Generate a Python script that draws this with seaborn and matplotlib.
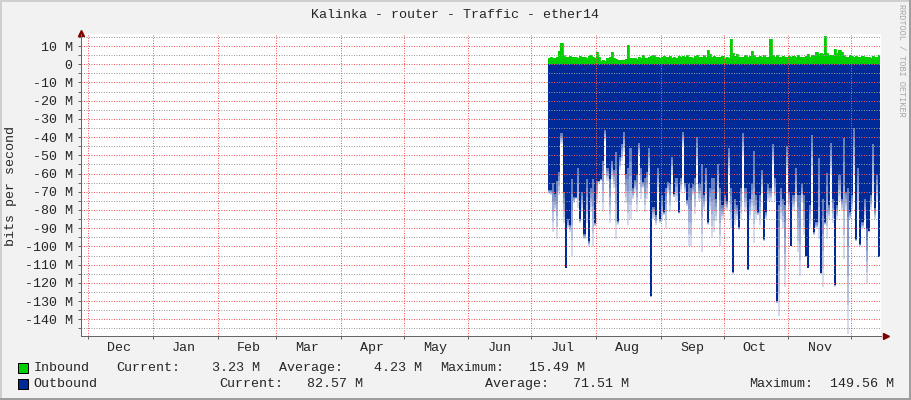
import numpy as np
import pandas as pd
import matplotlib
matplotlib.use("Agg")
import matplotlib.pyplot as plt
import matplotlib.dates as mdates
from matplotlib.patches import Rectangle
from matplotlib.lines import Line2D
from matplotlib.ticker import MultipleLocator, FuncFormatter
import seaborn as sns

# daily samples in Mbit/s, first sample on 2019-07-09
start_date = "2019-07-09"

inbound = [
    3.5, 3.8, 3.2, 3.6, 4.0, 7.0, 11.5, 5.0, 4.2, 3.8,
    4.5, 3.8, 4.2, 4.0, 3.6, 4.4, 3.9, 4.1, 3.7, 4.3,
    4.8, 4.0, 3.5, 6.5, 3.8, 2.0, 2.2, 2.0, 3.5, 4.0,
    6.8, 3.5, 2.8, 2.5, 2.2, 2.4, 2.2, 2.8, 10.5, 3.5,
    3.5, 3.2, 3.0, 4.0, 3.5, 4.8, 3.6, 3.2, 3.8, 4.5,
    5.0, 3.9, 4.2, 3.5, 3.8, 4.6, 3.8, 4.0, 4.5, 3.6,
    4.0, 3.5, 4.4, 3.8, 4.5, 3.9, 4.8, 4.2, 4.0, 3.6,
    4.5, 4.8, 3.9, 4.0, 5.0, 4.2, 7.8, 5.5, 4.0, 4.5,
    3.8, 4.2, 4.0, 4.5, 3.6, 4.0, 3.5, 13.9, 6.0, 4.5,
    5.5, 4.0, 3.8, 4.2, 5.0, 4.0, 4.5, 7.0, 5.0, 4.2,
    4.0, 4.5, 3.8, 5.2, 4.0, 4.2, 13.9, 4.8, 4.0, 5.2,
    4.2, 4.0, 4.5, 3.8, 4.2, 4.5, 3.9, 4.6, 4.0, 4.8,
    4.2, 4.0, 3.8, 4.5, 5.5, 4.0, 4.8, 5.0, 6.5, 5.5,
    6.2, 5.5, 15.5, 6.0, 4.8, 5.2, 5.0, 8.4, 6.0, 8.0,
    6.5, 5.0, 4.2, 4.0, 5.0, 4.5, 3.8, 4.5, 4.0, 4.2,
    4.5, 3.8, 4.2, 4.0, 3.6, 4.5, 3.9, 4.2, 5.2,
]

# outbound: typical daily level and the deepest short peak of each day
outbound = [
    69, 69, 65, 71, 64, 59, 38, 70, 112, 85,
    88, 63, 73, 73, 57, 85, 70, 93, 63, 97,
    68, 63, 87, 64, 64, 63, 53, 36, 57, 63,
    53, 58, 48, 86, 51, 44, 37, 60, 57, 46,
    68, 63.5, 60.7, 43, 57, 64.4, 62.6, 59, 46, 127,
    78.3, 83, 57, 85, 72, 81, 68, 64.4, 66, 51,
    71, 62.6, 81, 62.6, 37, 65.4, 74.6, 66, 68, 66,
    62.6, 40, 66, 55, 72, 57, 86.7, 68, 62.6, 62.6,
    73.7, 55, 68, 77.4, 72, 75.6, 46, 68, 114, 73.7,
    77.4, 89.5, 68, 37.6, 68, 112.6, 73.7, 66, 47.8, 72,
    81, 72, 58, 96, 81, 66, 68, 44, 62.6, 130,
    77.4, 68, 73.7, 77.4, 45, 70, 99.6, 72, 56.7, 72,
    72, 66, 72, 105, 111.7, 77.4, 39, 92, 86.7, 51.5,
    114.4, 73.7, 86.7, 59.8, 77.4, 43.5, 73.7, 121, 77.4, 60.7,
    73.7, 40.4, 70, 68, 81, 72, 35, 96, 57, 98.7,
    86.7, 73.7, 90.4, 91.3, 72, 44, 79, 60.7, 106,
]

outbound_peak = [
    71, 72, 92, 81, 96, 72, 44, 87, 112, 90,
    92, 105, 76, 74, 79, 87, 81, 96, 87, 100,
    81, 100, 89, 76, 65, 64, 81, 42, 64, 87,
    63, 68, 96, 88, 58, 53, 48, 76, 88, 85,
    74, 70, 81, 50, 74, 68, 81, 74, 60, 128,
    85, 88, 70, 87, 86, 83, 90, 70, 81, 60,
    73, 75, 82, 70, 45, 70, 78, 100, 100, 72,
    82, 55, 75, 103, 80, 75, 88, 80, 95, 92,
    86, 70, 100, 85, 80, 80, 60, 90, 115, 88,
    85, 91, 85, 50, 81, 113, 85, 80, 98, 85,
    83, 88, 70, 97, 85, 75, 75, 55, 75, 131,
    138, 85, 90, 122, 60, 80, 100, 80, 75, 103,
    116, 75, 94, 106, 112, 90, 60, 94, 90, 96,
    115, 122, 88, 96, 85, 60, 87, 122, 85, 75,
    80, 107, 80, 148, 85, 80, 60, 97, 80, 100,
    90, 85, 120, 92, 80, 70, 85, 75, 106,
]

title = "Kalinka - router - Traffic - ether14"
series_names = ["Inbound", "Outbound"]
inbound_stats = ["3.23 M", "4.23 M", "15.49 M"]
outbound_stats = ["82.57 M", "71.51 M", "149.56 M"]

GREEN = "#00CF00"
BLUE = "#002A97"
MGRID = (0.95, 0.35, 0.35, 0.55)
GRID = (0.6, 0.6, 0.6, 0.5)
ARROW = (0.5, 0.0, 0.0)

sns.set_style("white")
plt.rcParams["font.family"] = ["Liberation Mono", "DejaVu Sans Mono"]
plt.rcParams["font.size"] = 9.6

W, H = 911, 400
fig = plt.figure(figsize=(W / 100, H / 100), dpi=100, facecolor="#F2F2F2")
ax = fig.add_axes([81 / W, 64.3 / H, 799.5 / W, 301.7 / H])
ax.set_facecolor("white")

n = len(inbound)
edges = mdates.date2num(pd.date_range(start_date, periods=n + 1, freq="D"))
days = pd.date_range(start_date, periods=n, freq="D")
out_core = np.array(outbound)
out_peak = np.array(outbound_peak)

# outbound below zero, short peaks fading out, inbound above
ax.stairs(-out_core, edges, baseline=0, fill=True, color=BLUE, lw=0)
bands = 5
for k in range(bands):
    lo = out_core + (out_peak - out_core) * k / bands
    hi = out_core + (out_peak - out_core) * (k + 1) / bands
    ax.stairs(-hi, edges, baseline=-lo, fill=True, color=BLUE,
              alpha=0.6 - 0.11 * k, lw=0)
ax.stairs(np.array(inbound), edges, baseline=0, fill=True, color=GREEN, lw=0)
sns.lineplot(x=days, y=inbound, ax=ax, color=GREEN, lw=0.6,
             drawstyle="steps-post", legend=False)
ax.set_xlabel("")
ax.set_ylabel("")

ref = mdates.date2num(pd.Timestamp("2018-12-01"))
ax.set_xlim(ref - 3.35, ref + 379.1)
ax.set_ylim(-149.0, 16.6)

# axes, ticks and grid
ax.yaxis.set_major_locator(MultipleLocator(10))
ax.yaxis.set_minor_locator(MultipleLocator(5))
ax.yaxis.set_major_formatter(FuncFormatter(
    lambda v, p: "0" if abs(v) < 1e-9 else f"{int(round(v))} M"))
ax.xaxis.set_major_locator(mdates.MonthLocator())
ax.xaxis.set_major_formatter(plt.NullFormatter())
ax.xaxis.set_minor_locator(mdates.MonthLocator(bymonthday=16))
ax.xaxis.set_minor_formatter(mdates.DateFormatter("%b"))

ax.tick_params(axis="y", which="both", direction="out", length=2.2, width=0.72,
               color="#666666", pad=3.8, labelsize=9.6, left=True)
ax.tick_params(axis="x", which="major", direction="out", length=2.2, width=0.72,
               color="#666666", bottom=True)
ax.tick_params(axis="x", which="minor", length=0, pad=4.5, labelsize=9.6)

ax.set_axisbelow(False)
ax.grid(which="major", axis="both", color=MGRID, linestyle=(0, (1, 1.5)),
        lw=0.72)
ax.grid(which="minor", axis="y", color=GRID, linestyle=(0, (1, 1.5)),
        lw=0.72)
ax.grid(which="minor", axis="x", visible=False)

for side in ["top", "right"]:
    ax.spines[side].set_visible(False)
for side in ["left", "bottom"]:
    ax.spines[side].set_color("#666666")
    ax.spines[side].set_linewidth(0.72)

ax.plot([0], [1.0 + 1.5 / 302], marker="^", color=ARROW, markersize=5,
        transform=ax.transAxes, clip_on=False)
ax.plot([1.0 + 5 / 799.5], [0], marker=">", color=ARROW, markersize=5,
        transform=ax.transAxes, clip_on=False)

# texts
fig.text(455 / W, 1 - 14.5 / H, title, ha="center", va="center", fontsize=9.6)
fig.text(11.5 / W, 1 - 186 / H, "bits per second", rotation=90,
         ha="center", va="center", fontsize=9.6)
fig.text(901.5 / W, 1 - 60 / H, "RRDTOOL / TOBI OETIKER", rotation=270,
         ha="center", va="center", fontsize=6.2, color="#A8A8A8")

# legend rows
rows = [
    (368, GREEN, series_names[0], inbound_stats,
     [116.5, 279, 440], [212, 374, 529]),
    (384, BLUE, series_names[1], outbound_stats,
     [219, 485, 749], [307, 573, 830]),
]
for y, col, name, stats, label_x, value_x in rows:
    fig.add_artist(Rectangle((17.5 / W, 1 - (y + 5) / H), 10 / W, 10 / H,
                             facecolor=col, edgecolor="black", lw=0.72,
                             transform=fig.transFigure))
    fig.text(33.5 / W, 1 - y / H, name, ha="left", va="center", fontsize=9.6)
    for lab, lx, val, vx in zip(["Current:", "Average:", "Maximum:"],
                                label_x, stats, value_x):
        fig.text(lx / W, 1 - y / H, lab, ha="left", va="center", fontsize=9.6)
        fig.text(vx / W, 1 - y / H, val, ha="left", va="center", fontsize=9.6)

# 3d frame around the image
for xs, ys, c in [([0, 1], [1 - 1 / H, 1 - 1 / H], "#CFCFCF"),
                  ([1 / W, 1 / W], [0, 1], "#CFCFCF"),
                  ([0, 1], [1 / H, 1 / H], "#9E9E9E"),
                  ([1 - 1 / W, 1 - 1 / W], [0, 1], "#9E9E9E")]:
    fig.add_artist(Line2D(xs, ys, color=c, lw=1.44, transform=fig.transFigure))

fig.savefig("out.png", dpi=100, facecolor=fig.get_facecolor())
